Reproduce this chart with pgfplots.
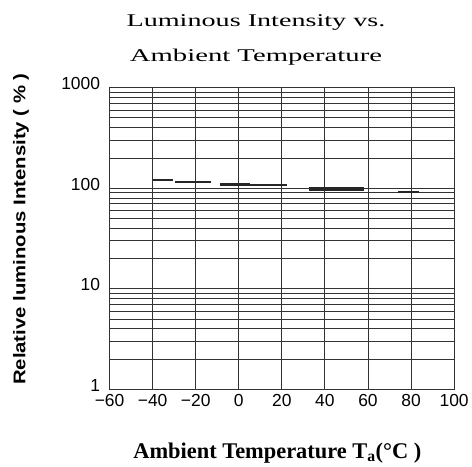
\documentclass[border=0pt]{standalone}
\usepackage{fontspec}
\setmainfont{Liberation Serif}
\newfontfamily\tickfont{Liberation Sans}
\newfontfamily\labelsans{Liberation Sans}
\usepackage{graphicx}
\usepackage{pgfplots}
\pgfplotsset{compat=1.18}

\begin{document}
\begin{tikzpicture}
  \begin{axis}[
      name=ax,
      scale only axis,
      width=346pt, height=303pt,
      xmin=-60, xmax=100,
      ymode=log, ymin=1, ymax=1000,
      xtick={-60,-40,...,100},
      xticklabels={−60,−40,−20,0,20,40,60,80,100},
      ytick={1,10,100,1000},
      yticklabels={1,10,100,1000},
      minor ytick={2,3,4,5,6,7,8,9,20,30,40,50,60,70,80,90,200,300,400,500,600,700,800,900},
      grid=both,
      major grid style={black!80, line width=0.9pt},
      minor grid style={black!80, line width=0.9pt},
      axis line style={black!80, line width=0.9pt},
      major tick length=0pt, minor tick length=0pt,
      ticklabel style={font=\tickfont\fontsize{17.5}{17.5}\selectfont},
      xticklabel style={yshift=-1pt},
      yticklabel style={xshift=-6pt, yshift=4pt},
      unbounded coords=jump,
      xlabel={Ambient Temperature T\textsubscript{a}(°C )},
      xlabel style={font=\bfseries\fontsize{22.5}{22.5}\selectfont,
        at={(axis description cs:0.487,0)}, anchor=base, yshift=-69pt},
      ylabel={\scalebox{1.2}[1]{Relative luminous Intensity ( \% )}},
      ylabel style={font=\labelsans\bfseries\fontsize{17}{17}\selectfont,
        at={(axis description cs:-0.257,0.531)}, anchor=center},
    ]
    % thin steps
    \addplot[black!85, line width=2pt] coordinates {
      (-40,121) (-30.5,121) (nan,nan)
      (-29.5,115) (-13,115) (nan,nan)
      (5,107) (22.5,107) (nan,nan)
      (74,91) (83.5,91)
    };
    % thick steps
    \addplot[black!85, line width=3.5pt] coordinates {
      (-8.5,109) (5,109) (nan,nan)
      (32.5,98) (58,98)
    };
  \end{axis}
  \node[anchor=base, font=\fontsize{18}{18}\selectfont, xshift=147pt, yshift=61pt]
    at (ax.north west) {\scalebox{1.57}[1]{Luminous Intensity vs.}};
  \node[anchor=base, font=\fontsize{18}{18}\selectfont, xshift=147pt, yshift=26pt]
    at (ax.north west) {\scalebox{1.6}[1]{Ambient Temperature}};
  \path (ax.south west) ++(-110pt,-77pt) coordinate (bbl);
  \path (ax.north east) ++(16pt,88pt) coordinate (btr);
  \useasboundingbox (bbl) rectangle (btr);
\end{tikzpicture}
\end{document}
